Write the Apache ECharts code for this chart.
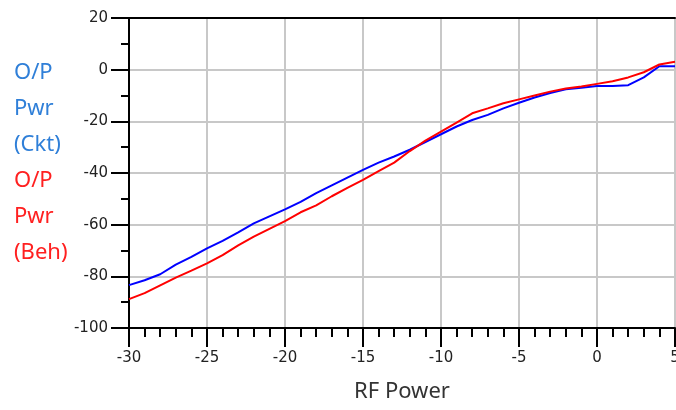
<!DOCTYPE html>
<html><head><meta charset="utf-8">
<script src="https://cdn.jsdelivr.net/npm/echarts@6/dist/echarts.min.js"></script>
<style>html,body{margin:0;padding:0;background:#fff}#c{width:676px;height:410px}</style>
</head><body><div id="c"></div>
<script>
const rfPower = [-30,-29,-28,-27,-26,-25,-24,-23,-22,-21,-20,-19,-18,-17,-16,-15,-14,-13,-12,-11,-10,-9,-8,-7,-6,-5,-4,-3,-2,-1,0,1,2,3,4,5];
const pwrCkt = [-83.4,-81.5,-79.2,-75.5,-72.5,-69.2,-66.3,-63.0,-59.5,-56.8,-54.1,-51.2,-47.8,-44.8,-41.8,-38.8,-36.0,-33.6,-31.0,-28.0,-25.0,-22.0,-19.5,-17.5,-15.0,-12.8,-10.8,-9.0,-7.6,-7.0,-6.3,-6.3,-6.0,-3.0,1.3,1.3];
const pwrBeh = [-88.8,-86.5,-83.5,-80.5,-77.8,-75.0,-71.8,-68.0,-64.6,-61.6,-58.6,-55.2,-52.5,-49.0,-45.8,-42.7,-39.3,-36.0,-31.5,-27.5,-24.0,-20.5,-16.9,-15.0,-13.0,-11.5,-10.0,-8.5,-7.3,-6.5,-5.5,-4.5,-3.0,-1.0,2.0,3.1];
const legendCkt = ['O/P','Pwr','(Ckt)'];
const legendBeh = ['O/P','Pwr','(Beh)'];
const xName = 'RF Power';

const chart = echarts.init(document.getElementById('c'));
const tickFont = {fontFamily:'DejaVu Sans', fontSize:15, color:'#222'};
const legendTexts = [];
legendCkt.forEach((t,i)=>legendTexts.push({type:'text', left:14, top:62+i*36, style:{text:t, fill:'#2f7fd8', font:'22px "Noto Sans"'}}));
legendBeh.forEach((t,i)=>legendTexts.push({type:'text', left:14, top:170+i*36, style:{text:t, fill:'#ff2020', font:'22px "Noto Sans"'}}));
chart.setOption({
  animation:false,
  grid:{left:129, right:1, top:18, bottom:82, containLabel:false, outerBoundsMode:'none'},
  graphic: legendTexts,
  xAxis:[{
    type:'value', min:-30, max:5, interval:5,
    name:xName, nameLocation:'middle', nameGap:53,
    nameTextStyle:{fontFamily:'Noto Sans', fontSize:22, color:'#333'},
    axisLine:{show:true, onZero:false, lineStyle:{color:'#000', width:2}},
    axisTick:{show:true, length:19, lineStyle:{color:'#000', width:2}},
    minorTick:{show:true, splitNumber:5, length:9, lineStyle:{color:'#000', width:2}},
    axisLabel:{...tickFont, margin:23},
    splitLine:{show:true, lineStyle:{color:'#c8c8c8', width:2}}
  },{
    type:'value', min:-30, max:5, position:'top',
    axisLine:{show:true, onZero:false, lineStyle:{color:'#000', width:2}},
    axisTick:{show:false}, axisLabel:{show:false}, splitLine:{show:false}
  }],
  yAxis:{
    type:'value', min:-100, max:20, interval:20,
    axisLine:{show:true, onZero:false, lineStyle:{color:'#000', width:2}},
    axisTick:{show:true, length:18, lineStyle:{color:'#000', width:2}},
    minorTick:{show:true, splitNumber:2, length:8, lineStyle:{color:'#000', width:2}},
    axisLabel:{...tickFont, margin:21},
    splitLine:{show:true, lineStyle:{color:'#c8c8c8', width:2}}
  },
  series:[
    {type:'line', name:'O/P Pwr (Ckt)', data:rfPower.map((x,i)=>[x,pwrCkt[i]]), showSymbol:false, lineStyle:{color:'#0000ff', width:2}, z:3},
    {type:'line', name:'O/P Pwr (Beh)', data:rfPower.map((x,i)=>[x,pwrBeh[i]]), showSymbol:false, lineStyle:{color:'#ff0000', width:2}, z:4}
  ]
});
</script></body></html>
